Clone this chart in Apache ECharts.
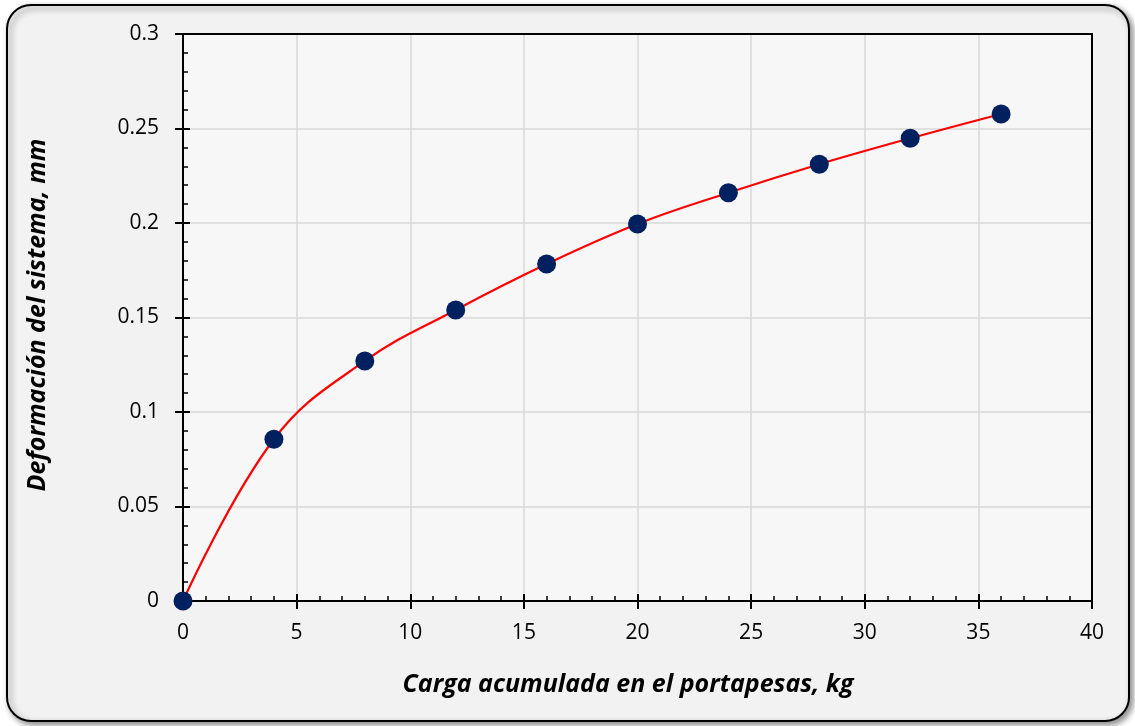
<!DOCTYPE html>
<html>
<head>
<meta charset="utf-8">
<script src="https://cdn.jsdelivr.net/npm/echarts@6/dist/echarts.min.js"></script>
<style>
html,body{margin:0;padding:0;background:#ffffff;}
#c{width:1135px;height:726px;}
</style>
</head>
<body>
<div id="c"></div>
<script>
var cargaKg = [0, 4, 8, 12, 16, 20, 24, 28, 32, 36];
var deformacionMm = [0, 0.0856, 0.127, 0.154, 0.1783, 0.1995, 0.216, 0.2311, 0.2448, 0.2577];
var xTitle = 'Carga acumulada en el portapesas, kg';
var yTitle = 'Deformación del sistema, mm';

var pts = cargaKg.map(function (x, i) { return [x, deformacionMm[i]]; });
var font = '"Open Sans", "Noto Sans", sans-serif';

function borderAxis(pos, min, max, interval) {
  return {
    type: 'value', min: min, max: max, interval: interval, position: pos,
    axisLine: {show: true, onZero: false, lineStyle: {color: '#000', width: 2}},
    axisTick: {show: false}, axisLabel: {show: false}, splitLine: {show: false}
  };
}

var chart = echarts.init(document.getElementById('c'), null, {renderer: 'canvas'});
chart.setOption({
  animation: false,
  backgroundColor: 'transparent',
  graphic: {
    elements: [{
      type: 'rect', z: -100, silent: true,
      shape: {x: 7, y: 5, width: 1122, height: 716, r: 24},
      style: {fill: '#f2f2f2', stroke: '#000', lineWidth: 2,
              shadowBlur: 6, shadowOffsetX: 3, shadowOffsetY: 3, shadowColor: 'rgba(0,0,0,0.45)'}
    }, {
      type: 'text', z: 100, x: 628, y: 685,
      style: {text: xTitle, font: 'italic bold 25px ' + font, fill: '#000', textAlign: 'center', textVerticalAlign: 'middle'}
    }, {
      type: 'text', z: 100,
      x: 38, y: 315, rotation: Math.PI / 2,
      style: {text: yTitle, font: 'italic bold 25px ' + font, fill: '#000', textAlign: 'center', textVerticalAlign: 'middle'}
    }]
  },
  grid: {
    left: 183, right: 43, top: 34, bottom: 125,
    show: true, backgroundColor: '#f7f7f7', borderColor: '#000', borderWidth: 0
  },
  xAxis: [{
    type: 'value', min: 0, max: 40, interval: 5,
    axisLine: {show: true, onZero: false, lineStyle: {color: '#000', width: 2}},
    axisTick: {show: true, inside: true, length: 7, lineStyle: {color: '#000', width: 2}},
    minorTick: {show: true, splitNumber: 5, length: 5, lineStyle: {color: '#000', width: 1.5}},
    axisLabel: {color: '#000', fontSize: 21, fontFamily: font, margin: 22},
    splitLine: {show: true, lineStyle: {color: '#d9d9d9', width: 1.5}}
  }, {
    type: 'value', min: 0, max: 40, interval: 5, position: 'bottom',
    axisLine: {show: false, onZero: false},
    axisTick: {show: true, inside: false, length: 8, lineStyle: {color: '#000', width: 2}},
    axisLabel: {show: false},
    splitLine: {show: false}
  }, borderAxis('top', 0, 40, 5)],
  yAxis: [{
    type: 'value', min: 0, max: 0.3, interval: 0.05,
    axisLine: {show: true, onZero: false, lineStyle: {color: '#000', width: 2}},
    axisTick: {show: true, inside: true, length: 7, lineStyle: {color: '#000', width: 2}},
    minorTick: {show: true, splitNumber: 5, length: 5, lineStyle: {color: '#000', width: 1.5}},
    axisLabel: {color: '#000', fontSize: 21, fontFamily: font, margin: 24},
    splitLine: {show: true, lineStyle: {color: '#d9d9d9', width: 1.5}}
  }, {
    type: 'value', min: 0, max: 0.3, interval: 0.05, position: 'left',
    axisLine: {show: false, onZero: false},
    axisTick: {show: true, inside: false, length: 8, lineStyle: {color: '#000', width: 2}},
    axisLabel: {show: false},
    splitLine: {show: false}
  }, borderAxis('right', 0, 0.3, 0.05)],
  series: [{
    type: 'line', data: pts, smooth: 0.4, clip: false,
    symbol: 'circle', symbolSize: 19, showAllSymbol: true,
    lineStyle: {color: '#ff0000', width: 2.2},
    itemStyle: {color: '#002060'},
    z: 5
  }]
});
</script>
</body>
</html>
